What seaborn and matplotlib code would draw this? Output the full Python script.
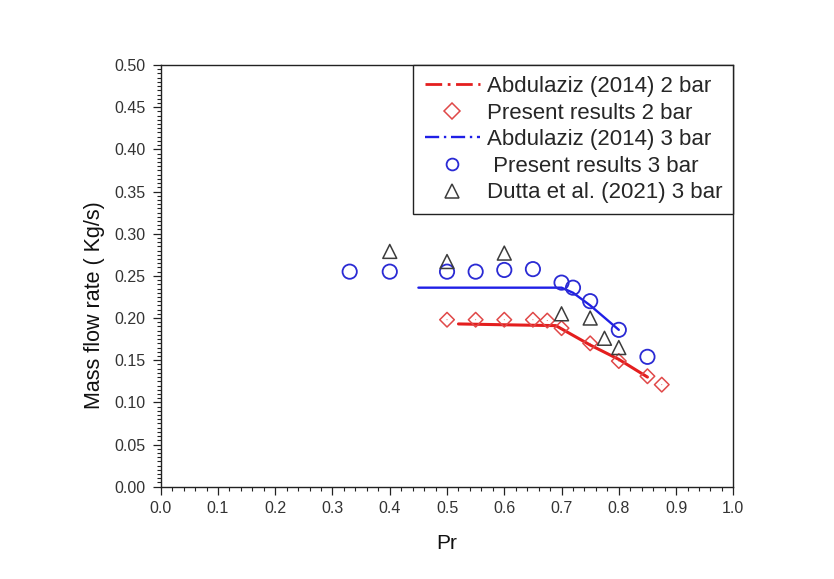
import matplotlib
matplotlib.use("Agg")
import matplotlib.pyplot as plt
from matplotlib.lines import Line2D
from matplotlib.ticker import MultipleLocator, FormatStrFormatter
import seaborn as sns

# Abdulaziz (2014) reference curves
pr_abd_2bar = [0.52, 0.60, 0.69, 0.75, 0.80, 0.85]
m_abd_2bar = [0.193, 0.192, 0.191, 0.168, 0.151, 0.130]
pr_abd_3bar = [0.45, 0.70, 0.72, 0.75, 0.80]
m_abd_3bar = [0.236, 0.236, 0.230, 0.215, 0.186]

# Present results
pr_pres_2bar = [0.50, 0.55, 0.60, 0.65, 0.675, 0.70, 0.75, 0.80, 0.85, 0.875]
m_pres_2bar = [0.198, 0.198, 0.198, 0.198, 0.197, 0.188, 0.170, 0.149, 0.131, 0.121]
pr_pres_3bar = [0.33, 0.40, 0.50, 0.55, 0.60, 0.65, 0.70, 0.72, 0.75, 0.80, 0.85]
m_pres_3bar = [0.255, 0.255, 0.255, 0.255, 0.257, 0.258, 0.242, 0.236, 0.220, 0.186, 0.154]

# Dutta et al. (2021)
pr_dutta = [0.40, 0.50, 0.60, 0.70, 0.75, 0.775, 0.80]
m_dutta = [0.279, 0.267, 0.277, 0.205, 0.200, 0.176, 0.165]

legend_labels = ["Abdulaziz (2014) 2 bar", "Present results 2 bar",
                 "Abdulaziz (2014) 3 bar", " Present results 3 bar",
                 "Dutta et al. (2021) 3 bar"]

RED_LINE = "#e41e1e"
RED_MARK = "#e04848"
BLUE_LINE = "#1f1fe6"
BLUE_MARK = "#2a2ad4"
GRAY = "#3c3c3c"

sns.set_theme(style="ticks")
plt.rcParams["font.family"] = ["Liberation Sans", "DejaVu Sans"]

fig = plt.figure(figsize=(8.34, 5.79), dpi=100)
ax = fig.add_axes([0.1927, 0.1594, 0.6866, 0.7283])

sns.lineplot(x=pr_abd_2bar, y=m_abd_2bar, ax=ax, color=RED_LINE, lw=2.2,
             sort=False, estimator=None)
sns.lineplot(x=pr_abd_3bar, y=m_abd_3bar, ax=ax, color=BLUE_LINE, lw=1.7,
             sort=False, estimator=None)
sns.scatterplot(x=pr_pres_2bar, y=m_pres_2bar, ax=ax, marker="D", s=55,
                facecolor="none", edgecolor=RED_MARK, linewidth=1.1, zorder=3)
sns.scatterplot(x=pr_pres_2bar, y=m_pres_2bar, ax=ax, marker=".", s=2,
                facecolor=RED_MARK, edgecolor="none", zorder=3)
sns.scatterplot(x=pr_pres_3bar, y=m_pres_3bar, ax=ax, marker="o", s=106,
                facecolor="none", edgecolor=BLUE_MARK, linewidth=1.3, zorder=3)
sns.scatterplot(x=pr_dutta, y=m_dutta, ax=ax, marker="^", s=100,
                facecolor="none", edgecolor=GRAY, linewidth=1.1, zorder=4)

ax.set_xlim(0.0, 1.0)
ax.set_ylim(0.0, 0.5)
ax.xaxis.set_major_locator(MultipleLocator(0.1))
ax.xaxis.set_minor_locator(MultipleLocator(0.02))
ax.yaxis.set_major_locator(MultipleLocator(0.05))
ax.yaxis.set_minor_locator(MultipleLocator(0.005))
ax.xaxis.set_major_formatter(FormatStrFormatter("%.1f"))
ax.yaxis.set_major_formatter(FormatStrFormatter("%.2f"))

for side in ["top", "right", "left", "bottom"]:
    ax.spines[side].set_visible(True)
    ax.spines[side].set_color("#222222")
    ax.spines[side].set_linewidth(1.0)

ax.tick_params(which="major", direction="out", length=6, width=0.9,
               color="#222222", labelsize=11.5, labelcolor="#333333")
ax.tick_params(axis="y", which="major", pad=5)
ax.tick_params(axis="x", which="major", pad=4.5)
ax.tick_params(which="minor", direction="out", length=3, width=0.8,
               color="#222222")
ax.tick_params(top=False, right=False, which="both")

ax.set_xlabel("Pr", fontsize=15, color="#111111", va="center")
ax.set_ylabel("Mass flow rate ( Kg/s)", fontsize=15.5, color="#111111",
              va="center")
ax.xaxis.set_label_coords(0.5, -0.1335)
ax.yaxis.set_label_coords(-0.1165, 0.43)

handles = [
    Line2D([], [], color=RED_LINE, lw=2, linestyle=(0, (6, 2, 1, 2))),
    Line2D([], [], color=RED_MARK, marker="D", markersize=8, ls="none",
           markerfacecolor="none", markeredgewidth=1.1),
    Line2D([], [], color=BLUE_LINE, lw=1.7, linestyle=(0, (6, 2, 1, 2))),
    Line2D([], [], color=BLUE_MARK, marker="o", markersize=8.5, ls="none",
           markerfacecolor="none", markeredgewidth=1.3),
    Line2D([], [], color=GRAY, marker="^", markersize=9.5, ls="none",
           markerfacecolor="none", markeredgewidth=1.1),
]
leg = ax.legend(handles, legend_labels, loc="upper right",
                bbox_to_anchor=(1.0, 1.0), borderaxespad=0, fontsize=16,
                frameon=True, fancybox=False, framealpha=1, edgecolor="#222222",
                handlelength=2.5, handletextpad=0.3, labelspacing=0.25,
                borderpad=0.5)
leg.get_frame().set_linewidth(1.0)

fig.savefig("out.png", dpi=100, facecolor="white")
